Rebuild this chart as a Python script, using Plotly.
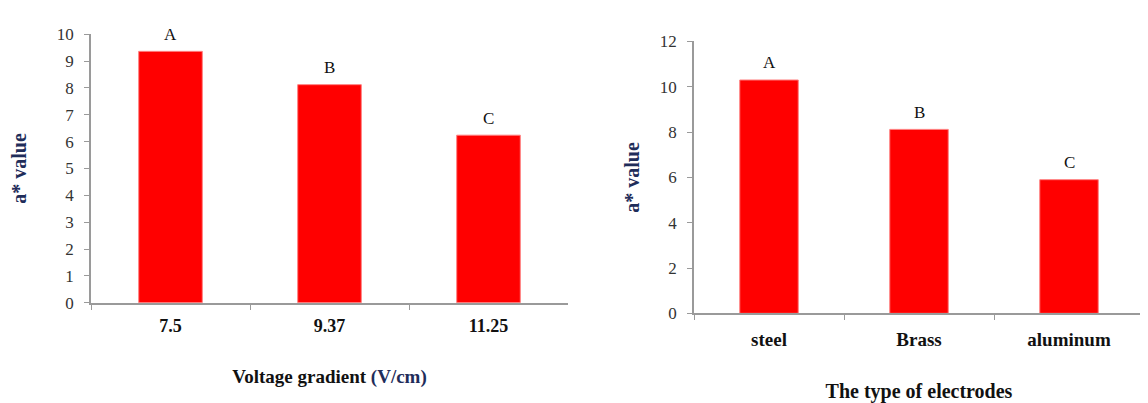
import plotly.graph_objects as go

# Left chart: voltage gradient
volt_categories = ["7.5", "9.37", "11.25"]
volt_values = [9.36, 8.12, 6.24]
volt_letters = ["A", "B", "C"]

# Right chart: electrode type
elec_categories = ["steel", "Brass", "aluminum"]
elec_values = [10.3, 8.12, 5.9]
elec_letters = ["A", "B", "C"]

SERIF = "Liberation Serif, Times New Roman, serif"
NAVY = "#1f2d5a"
AXIS_GREY = "#9a9a9a"
RED = "#ff0000"
H = 403.0

fig = go.Figure()

fig.add_trace(go.Bar(
    x=volt_categories, y=volt_values, xaxis="x", yaxis="y",
    marker=dict(color=RED, line=dict(color="#ff8080", width=1)),
    width=0.40, showlegend=False, hoverinfo="x+y",
))
fig.add_trace(go.Bar(
    x=elec_categories, y=elec_values, xaxis="x2", yaxis="y2",
    marker=dict(color=RED, line=dict(color="#ff8080", width=1)),
    width=0.39, showlegend=False, hoverinfo="x+y",
))

annotations = []
# category axes: use the category index so numeric-looking labels are not read as positions
for i, (v, t) in enumerate(zip(volt_values, volt_letters)):
    annotations.append(dict(x=i, y=v, xref="x", yref="y", text=t, showarrow=False,
                            yanchor="middle", yshift=17,
                            font=dict(family=SERIF, size=17, color="#111111")))
for i, (v, t) in enumerate(zip(elec_values, elec_letters)):
    annotations.append(dict(x=i, y=v, xref="x2", yref="y2", text=t, showarrow=False,
                            yanchor="middle", yshift=17,
                            font=dict(family=SERIF, size=17, color="#111111")))

common_x = dict(
    type="category",
    showline=True, linecolor=AXIS_GREY, linewidth=1.5,
    ticks="outside", tickson="boundaries", ticklen=5, tickcolor=AXIS_GREY,
    showgrid=False, zeroline=False, fixedrange=True, tickangle=0,
    range=[-0.5, 2.5],
)
common_y = dict(
    showline=True, linecolor=AXIS_GREY, linewidth=1.5,
    ticks="outside", ticklen=5, tickcolor=AXIS_GREY,
    showgrid=False, zeroline=False, fixedrange=True,
    ticklabelstandoff=7,
    tickfont=dict(family=SERIF, size=17, color="#333333"),
)

fig.update_layout(
    width=1148, height=403,
    margin=dict(l=0, r=0, t=0, b=0),
    paper_bgcolor="white", plot_bgcolor="white",
    xaxis=dict(**common_x, domain=[83 / 1148, 560 / 1148], anchor="y",
               ticklabelstandoff=6,
               tickfont=dict(family=SERIF, size=18, color="#111111", weight="bold"),
               title=dict(text="Voltage gradient <span style='color:%s'>(V/cm)</span>" % NAVY,
                          standoff=34,
                          font=dict(family=SERIF, size=19, color="#111111", weight="bold"))),
    yaxis=dict(**common_y, domain=[1 - 300 / H, 1 - 18 / H], anchor="x",
               range=[0, 10], dtick=1,
               title=dict(text="a* value", standoff=27,
                          font=dict(family=SERIF, size=20, color=NAVY, weight="bold"))),
    xaxis2=dict(**common_x, domain=[686 / 1148, 1136 / 1148], anchor="y2",
                ticklabelstandoff=8,
                tickfont=dict(family=SERIF, size=19, color="#111111", weight="bold"),
                title=dict(text="The type of electrodes", standoff=35,
                           font=dict(family=SERIF, size=20, color="#111111", weight="bold"))),
    yaxis2=dict(**common_y, domain=[1 - 311 / H, 1 - 25.7 / H], anchor="x2",
                range=[0, 12], dtick=2,
                title=dict(text="a* value", standoff=15,
                           font=dict(family=SERIF, size=20, color=NAVY, weight="bold"))),
    annotations=annotations,
)

fig.write_html("out.html")
